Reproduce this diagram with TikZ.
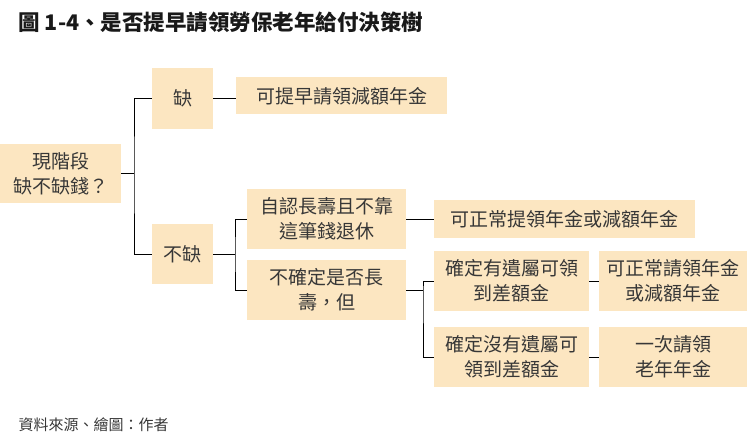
\documentclass[tikz,border=0pt]{standalone}
\usepackage{fontspec}
\setmainfont{Noto Sans CJK TC}
\definecolor{boxfill}{RGB}{252,230,193}
\definecolor{txt}{RGB}{55,55,55}
\tikzset{
  box/.style={draw=none, fill=boxfill, inner sep=0pt, align=center, text=txt,
    font=\fontsize{19}{25}\selectfont},
  conn/.style={draw=black, line width=1pt}
}
\begin{document}
\begin{tikzpicture}[x=1pt,y=-1pt]
\useasboundingbox (0,0) rectangle (753,436);
\node[anchor=west, font=\fontsize{21.5}{24}\bfseries\selectfont, text=black!90] (title) at (15,22) {圖 1-4、是否提早請領勞保老年給付決策樹};
\node[anchor=west, font=\fontsize{15}{16}\selectfont, text=txt] (foot) at (15,425) {資料來源、繪圖：作者};

\node[box, minimum width=121pt, minimum height=59pt] (root) at (60.5,173.5) {現階段\\缺不缺錢？};
\node[box, minimum width=61pt, minimum height=61pt] (que) at (182.5,98.5) {缺};
\node[box, minimum width=61pt, minimum height=60pt] (bu) at (182.5,254) {不缺};
\node[box, minimum width=211pt, minimum height=37pt] (a1) at (341.5,96) {可提早請領減額年金};
\node[box, minimum width=159pt, minimum height=60pt] (b1) at (326.5,219) {自認長壽且不靠\\這筆錢退休};
\node[box, minimum width=159pt, minimum height=60pt] (b2) at (326.5,290) {不確定是否長\\壽，但};
\node[box, minimum width=261pt, minimum height=38pt] (c1) at (564.5,219) {可正常提領年金或減額年金};
\node[box, minimum width=155pt, minimum height=60pt] (d1) at (511.5,281) {確定有遺屬可領\\到差額金};
\node[box, minimum width=155pt, minimum height=60pt] (d2) at (511.5,357) {確定沒有遺屬可\\領到差額金};
\node[box, minimum width=148pt, minimum height=60pt] (e1) at (673,281) {可正常請領年金\\或減額年金};
\node[box, minimum width=148pt, minimum height=60pt] (e2) at (673,357) {一次請領\\老年年金};

\coordinate (j1) at (134,173.5);
\coordinate (j2) at (235,254);
\coordinate (j3) at (423,290);

\draw[conn] (root.east) -- (j1);
\draw[conn] (que.west) -| (j1) |- (bu.west);
\draw[conn] (que.east) -- (que.east -| a1.west);
\draw[conn] (bu.east) -- (j2);
\draw[conn] (b1.west) -| (j2) |- (b2.west);
\draw[conn] (b1.east) -- (c1.west);
\draw[conn] (b2.east) -- (j3);
\draw[conn] (d1.west) -| (j3) |- (d2.west);
\draw[conn] (d1.east) -- (e1.west);
\draw[conn] (d2.east) -- (e2.west);
\end{tikzpicture}
\end{document}
